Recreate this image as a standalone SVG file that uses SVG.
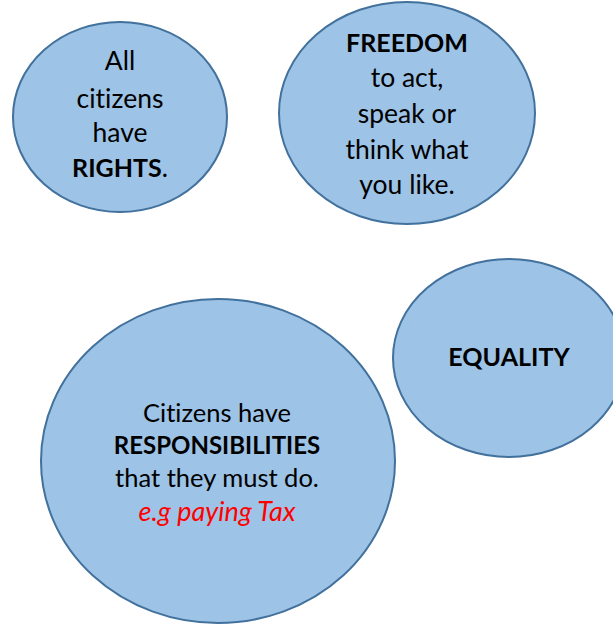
<svg xmlns="http://www.w3.org/2000/svg" width="613" height="627" viewBox="0 0 613 627">
  <style>
    .bubble { fill: #9dc3e6; stroke: #41719c; stroke-width: 2; }
    .t { font-family: Lato, "Open Sans", "Liberation Sans", sans-serif; fill: #000; text-anchor: middle; font-variant-ligatures: none; }
    .big { font-size: 26.5px; }
    .big .b, .big.b { font-size: 25px; }
    .mid { font-size: 25.5px; }
    .mid.b { font-size: 24px; }
    .b { font-weight: bold; }
    .eg { fill: #ff0000; font-style: italic; font-size: 27px; }
  </style>
  <rect width="613" height="627" fill="#ffffff"/>

  <g id="rights">
    <ellipse class="bubble" cx="120" cy="117" rx="107" ry="95"/>
    <text class="t big" x="120" y="70">All</text>
    <text class="t big" x="120" y="108">citizens</text>
    <text class="t big" x="120" y="142">have</text>
    <text class="t big" x="120" y="177"><tspan class="b">RIGHTS</tspan>.</text>
  </g>

  <g id="freedom">
    <ellipse class="bubble" cx="407" cy="113" rx="128" ry="111"/>
    <text class="t big b" x="407" y="52">FREEDOM</text>
    <text class="t big" x="407" y="87">to act,</text>
    <text class="t big" x="407" y="123">speak or</text>
    <text class="t big" x="407" y="159">think what</text>
    <text class="t big" x="407" y="194">you like.</text>
  </g>

  <g id="equality">
    <ellipse class="bubble" cx="509" cy="358" rx="116" ry="99"/>
    <text class="t big b" x="509" y="366">EQUALITY</text>
  </g>

  <g id="responsibilities">
    <ellipse class="bubble" cx="218" cy="461" rx="177" ry="162"/>
    <text class="t mid" x="217" y="422">Citizens have</text>
    <text class="t mid b" x="217" y="454">RESPONSIBILITIES</text>
    <text class="t mid" x="217" y="487">that they must do.</text>
    <text class="t mid eg" x="217" y="521">e.g paying Tax</text>
  </g>
</svg>
